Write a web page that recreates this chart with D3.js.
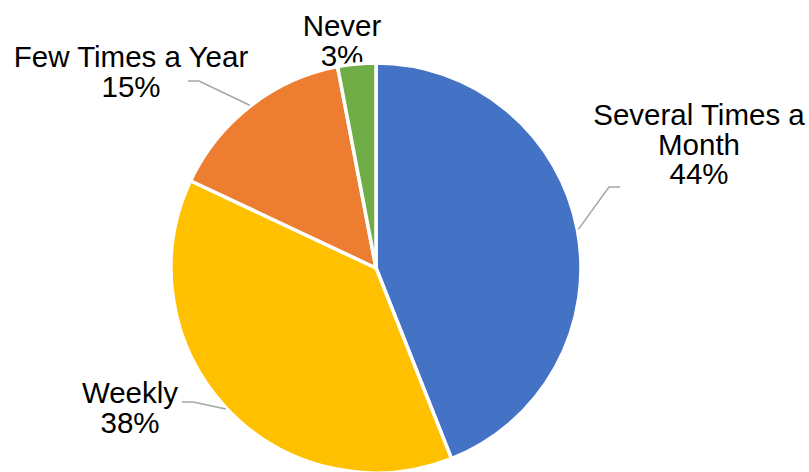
<!DOCTYPE html>
<html>
<head>
<meta charset="utf-8">
<script src="https://cdn.jsdelivr.net/npm/d3@7"></script>
<style>
  html, body { margin: 0; padding: 0; background: #ffffff; }
  svg { display: block; }
  text { font-family: "Liberation Sans", Arial, Helvetica, sans-serif; fill: #000; }
</style>
</head>
<body>
<svg id="chart" width="809" height="472"></svg>
<script>
// Survey answers: how often respondents take part
const categories = ["Several Times a Month", "Weekly", "Few Times a Year", "Never"];
const shares = [44, 38, 15, 3];
const colors = ["#4472C4", "#FFC000", "#ED7D31", "#70AD47"];
// label lines as wrapped on the chart
const labelLines = [["Several Times a", "Month"], ["Weekly"], ["Few Times a Year"], ["Never"]];

// layout
const W = 809, H = 472;
const cx = 376, cy = 268, radius = 205;
const fontSize = 29.5, lineGap = 29.5;
// label anchor (text centre x, first baseline y) and leader elbow for each slice
const labelLayout = [
  { tx: 699, ty: 125, elbow: [609, 187], end: [620, 187] },
  { tx: 130, ty: 403, elbow: [193, 402], end: [182, 402] },
  { tx: 131, ty: 67,  elbow: [199, 81],  end: [188, 81] },
  { tx: 342, ty: 36,  elbow: null,       end: null }
];

const svg = d3.select("#chart");
const data = categories.map((c, i) => ({ name: c, value: shares[i], lines: labelLines[i], color: colors[i], layout: labelLayout[i] }));

const pie = d3.pie().sort(null).value(d => d.value).startAngle(0).endAngle(2 * Math.PI);
const arcs = pie(data);
const arc = d3.arc().innerRadius(0).outerRadius(radius);

// data labels (name + percent)
const labels = svg.append("g");
arcs.forEach(a => {
  const L = a.data.layout;
  const t = labels.append("text")
    .attr("text-anchor", "middle")
    .attr("font-size", fontSize);
  const lines = a.data.lines.concat([d3.format(".0f")(a.data.value) + "%"]);
  lines.forEach((ln, k) => {
    t.append("tspan").attr("x", L.tx).attr("y", L.ty + k * lineGap).text(ln);
  });
});

// slices
const g = svg.append("g").attr("transform", `translate(${cx},${cy})`);
g.selectAll("path.slice")
  .data(arcs)
  .join("path")
  .attr("class", "slice")
  .attr("d", arc)
  .attr("fill", d => d.data.color)
  .attr("stroke", "#ffffff")
  .attr("stroke-width", 3.5)
  .attr("stroke-linejoin", "round");

// leader lines from slice mid-angle to the label
const leaders = svg.append("g");
arcs.forEach(a => {
  const L = a.data.layout;
  if (!L.elbow) return;
  const mid = (a.startAngle + a.endAngle) / 2;
  const sx = cx + (radius + 1) * Math.sin(mid);
  const sy = cy - (radius + 1) * Math.cos(mid);
  leaders.append("polyline")
    .attr("points", [[sx, sy], L.elbow, L.end].map(p => p.join(",")).join(" "))
    .attr("fill", "none")
    .attr("stroke", "#A6A6A6")
    .attr("stroke-width", 1.5);
});
</script>
</body>
</html>
